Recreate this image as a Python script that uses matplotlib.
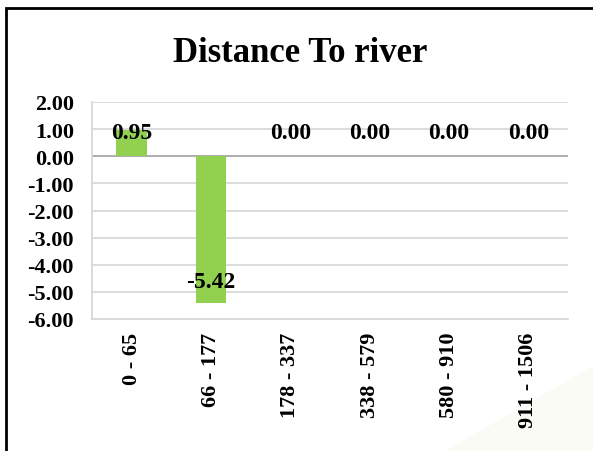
import matplotlib.pyplot as plt
from matplotlib.patches import Rectangle, Polygon

# Distance classes and values
categories = ["0 - 65", "66 - 177", "178 - 337", "338 - 579", "580 - 910", "911 - 1506"]
values = [0.95, -5.42, 0.00, 0.00, 0.00, 0.00]
yticks = [2, 1, 0, -1, -2, -3, -4, -5, -6]

plt.rcParams['font.family'] = ['Liberation Serif', 'DejaVu Serif']

W, H = 593, 452
fig = plt.figure(figsize=(W / 100, H / 100), dpi=100)

# faint background wedge, lower right
fig.patches.append(Polygon([(445 / W, 0), (1, 85 / H), (1, 0)], closed=True,
                           transform=fig.transFigure, facecolor="#fbfbf5",
                           edgecolor="none", zorder=-1))

ax = fig.add_axes([92 / W, 1 - 320 / H, (568 - 92) / W, (320 - 103) / H])
ax.patch.set_alpha(0)

x = list(range(len(categories)))
ax.bar(x, values, width=0.39, color="#92d050", zorder=3)

ax.set_xlim(-0.5, len(categories) - 0.5)
ax.set_ylim(-6, 2)
ax.set_yticks(yticks)
ax.set_yticklabels([f"{v:.2f}" for v in yticks], fontsize=16, fontweight="bold")
ax.set_xticks(x)
ax.set_xticklabels(categories, rotation=90, fontsize=16, fontweight="bold")
ax.tick_params(axis="y", length=0, pad=13)
ax.tick_params(axis="x", length=0, pad=9)

for v in yticks:
    ax.axhline(v, color="#a6a6a6" if v == 0 else "#d9d9d9", lw=1.3, zorder=1)

for s in ["top", "right"]:
    ax.spines[s].set_visible(False)
for s in ["left", "bottom"]:
    ax.spines[s].set_color("#d9d9d9")
    ax.spines[s].set_linewidth(1.3)

# data labels
for xi, v in zip(x, values):
    y = v + 0.81 if v < 0 else 0.87
    ax.text(xi, y, f"{v:.2f}", ha="center", va="center", fontsize=17,
            fontweight="bold", zorder=4)

fig.text(300 / W, 1 - 53 / H, "Distance To river", ha="center", va="center",
         fontsize=25, fontweight="bold")

# outer frame
fig.patches.append(Rectangle((6 / W, -0.2), 1.2, 1 - 9 / H + 0.2,
                             transform=fig.transFigure, fill=False,
                             edgecolor="black", lw=2))

fig.savefig("out.png", dpi=100)
